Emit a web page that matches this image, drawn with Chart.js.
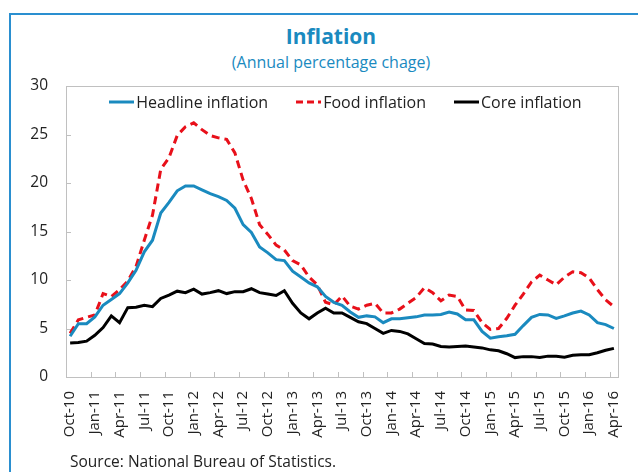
<!DOCTYPE html>
<html>
<head>
<meta charset="utf-8">
<script src="https://cdn.jsdelivr.net/npm/chart.js@4/dist/chart.umd.min.js"></script>
<style>
  html, body { margin: 0; padding: 0; background: #fff; }
  body { width: 638px; height: 472px; position: relative; overflow: hidden; font-family: "Open Sans", "Noto Sans", sans-serif; }
  #frame { position: absolute; left: 9px; top: 13px; width: 700px; height: 500px; border-left: 2.5px solid #2a8fd0; border-top: 2.5px solid #2a8fd0; }
  #title { position: absolute; left: 181px; width: 300px; top: 22px; text-align: center; font-weight: bold; font-size: 21px; color: #1a8abf; }
  #subtitle { position: absolute; left: 181px; width: 300px; top: 51px; text-align: center; font-size: 16px; color: #1a8abf; }
  #chart { position: absolute; left: 0; top: 0; }
  #legend { position: absolute; left: 66px; width: 559px; top: 91px; display: flex; justify-content: center; gap: 28px; font-size: 16px; color: #222; }
  .item { display: flex; align-items: center; white-space: nowrap; }
  .item svg { margin-right: 2px; }
  #source { position: absolute; left: 70px; top: 450px; font-size: 15.5px; color: #222; }
</style>
</head>
<body>
<div id="frame"></div>
<div id="title">Inflation</div>
<div id="subtitle">(Annual percentage chage)</div>
<canvas id="chart" width="638" height="472"></canvas>
<div id="legend"></div>
<div id="source">Source: National Bureau of Statistics.</div>
<script>
const months = ["Oct-10","Nov-10","Dec-10","Jan-11","Feb-11","Mar-11","Apr-11","May-11","Jun-11","Jul-11","Aug-11","Sep-11",
"Oct-11","Nov-11","Dec-11","Jan-12","Feb-12","Mar-12","Apr-12","May-12","Jun-12","Jul-12","Aug-12","Sep-12",
"Oct-12","Nov-12","Dec-12","Jan-13","Feb-13","Mar-13","Apr-13","May-13","Jun-13","Jul-13","Aug-13","Sep-13",
"Oct-13","Nov-13","Dec-13","Jan-14","Feb-14","Mar-14","Apr-14","May-14","Jun-14","Jul-14","Aug-14","Sep-14",
"Oct-14","Nov-14","Dec-14","Jan-15","Feb-15","Mar-15","Apr-15","May-15","Jun-15","Jul-15","Aug-15","Sep-15",
"Oct-15","Nov-15","Dec-15","Jan-16","Feb-16","Mar-16","Apr-16"];

const headline = [4.2,5.5,5.5,6.2,7.4,8.0,8.6,9.7,11.0,12.9,14.1,16.9,
18.0,19.2,19.7,19.7,19.3,18.9,18.6,18.2,17.4,15.7,14.9,13.4,
12.8,12.1,12.0,10.9,10.3,9.7,9.3,8.3,7.7,7.4,6.7,6.15,
6.3,6.2,5.6,6.0,6.0,6.1,6.2,6.4,6.4,6.45,6.7,6.5,
5.9,5.9,4.7,4.0,4.15,4.25,4.4,5.3,6.15,6.45,6.4,6.05,
6.3,6.6,6.8,6.4,5.6,5.4,5.0];

const food = [4.5,5.9,6.15,6.4,8.6,8.3,9.0,9.9,11.4,14.1,16.7,21.4,
22.6,24.9,25.8,26.2,25.5,24.9,24.65,24.5,23.1,20.3,18.4,15.7,
14.7,13.6,13.1,12.0,11.55,10.3,9.5,7.7,7.45,8.35,7.3,7.0,
7.4,7.6,6.6,6.6,7.0,7.6,8.2,9.2,8.7,7.85,8.45,8.3,
6.9,6.85,5.6,4.9,5.0,6.05,7.4,8.55,9.8,10.5,10.0,9.5,
10.3,10.85,10.75,10.2,9.0,7.95,7.25];

const core = [3.5,3.55,3.7,4.3,5.1,6.3,5.6,7.15,7.2,7.4,7.25,8.1,
8.45,8.85,8.7,9.05,8.55,8.7,8.9,8.6,8.8,8.8,9.1,8.7,
8.55,8.4,8.9,7.6,6.6,6.0,6.6,7.1,6.6,6.6,6.15,5.7,
5.5,5.0,4.5,4.8,4.7,4.45,3.95,3.45,3.4,3.15,3.1,3.15,
3.2,3.1,3.0,2.8,2.7,2.4,2.0,2.1,2.1,2.0,2.15,2.15,
2.05,2.25,2.3,2.3,2.5,2.75,2.95];

const seriesNames = ["Headline inflation", "Food inflation", "Core inflation"];
const yTicks = [0, 5, 10, 15, 20, 25, 30];

const colors = ["#1a8abf", "#e8101a", "#000000"];
const dashes = [[], [8, 5], []];

const framePlugin = {
  id: 'framePlugin',
  beforeDatasetsDraw(chart) {
    const {ctx, chartArea: a, scales: {x, y}} = chart;
    ctx.save();
    ctx.strokeStyle = '#c0c0c0';
    ctx.lineWidth = 1;
    ctx.strokeRect(Math.round(a.left) + 0.5, Math.round(a.top) + 0.5, Math.round(a.right - a.left), Math.round(a.bottom - a.top));
    ctx.beginPath();
    yTicks.forEach(v => {
      const py = Math.round(y.getPixelForValue(v)) + 0.5;
      ctx.moveTo(a.left, py); ctx.lineTo(a.left + 5, py);
    });
    for (let i = 3; i < months.length; i += 3) {
      const px = Math.round((x.getPixelForValue(i) + x.getPixelForValue(i - 1)) / 2) + 0.5;
      ctx.moveTo(px, a.bottom); ctx.lineTo(px, a.bottom - 5);
    }
    ctx.stroke();
    ctx.restore();
  }
};

const datasets = [headline, food, core].map((d, k) => ({
  label: seriesNames[k],
  data: d,
  borderColor: colors[k],
  backgroundColor: colors[k],
  borderWidth: 3,
  borderDash: dashes[k],
  pointRadius: 0,
  tension: 0,
  fill: false
}));

new Chart(document.getElementById('chart'), {
  type: 'line',
  data: { labels: months, datasets },
  options: {
    responsive: false,
    animation: false,
    layout: { padding: { top: 86, right: 13, left: 0, bottom: 0 } },
    plugins: { legend: { display: false }, tooltip: { enabled: false } },
    scales: {
      x: {
        type: 'category',
        offset: true,
        grid: { display: false },
        border: { display: false },
        ticks: {
          autoSkip: false,
          maxRotation: 90,
          minRotation: 90,
          padding: 6,
          color: '#222',
          font: { family: '"Open Sans", "Noto Sans", sans-serif', size: 15 },
          callback: (v, i) => (i % 3 === 0 ? months[i] : '')
        },
        afterFit: s => { s.height = 95; }
      },
      y: {
        min: 0, max: 30,
        grid: { display: false, drawTicks: false },
        border: { display: false },
        ticks: {
          stepSize: 5,
          padding: 18,
          color: '#222',
          font: { family: '"Open Sans", "Noto Sans", sans-serif', size: 15.5 }
        },
        afterFit: s => { s.width = 66; }
      }
    }
  },
  plugins: [framePlugin]
});

const legend = document.getElementById('legend');
seriesNames.forEach((name, k) => {
  const it = document.createElement('div');
  it.className = 'item';
  const dash = dashes[k].length ? `stroke-dasharray="7 4"` : '';
  it.innerHTML = `<svg width="25" height="6"><line x1="0" y1="3" x2="25" y2="3" stroke="${colors[k]}" stroke-width="3" ${dash}/></svg><span>${name}</span>`;
  legend.appendChild(it);
});
</script>
</body>
</html>
